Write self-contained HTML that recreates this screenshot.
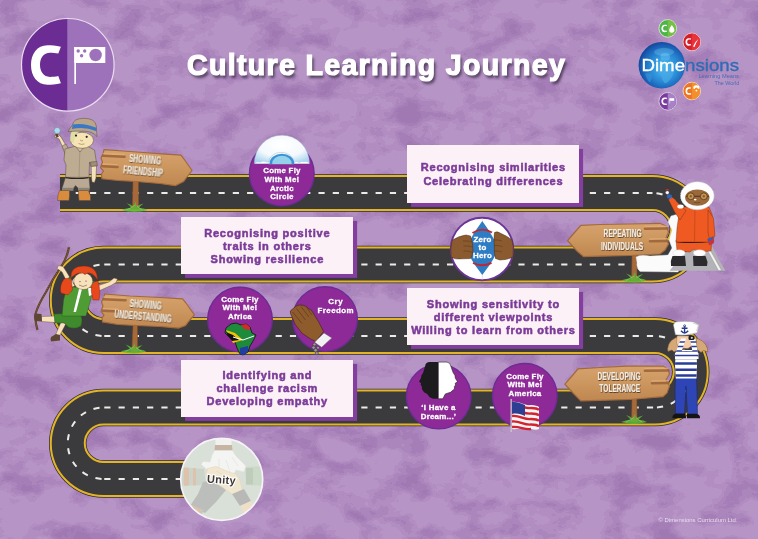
<!DOCTYPE html>
<html><head><meta charset="utf-8">
<style>
html,body{margin:0;padding:0;}
body{width:758px;height:539px;overflow:hidden;position:relative;background:#b694c6;font-family:"Liberation Sans",sans-serif;}
svg{position:absolute;left:0;top:0;}
.box{position:absolute;background:#fdf1f8;box-shadow:4.1px 3.9px 0 #843e9f;color:#7b3c98;font-weight:bold;font-size:11px;line-height:13.2px;text-align:center;-webkit-text-stroke:0.55px #7b3c98;letter-spacing:0.77px;}
.box div{padding-left:0.77px;}
.box div{position:absolute;left:0;right:0;will-change:transform;}
.title{position:absolute;left:187px;top:49px;font-size:28.6px;font-weight:bold;color:#fff;text-shadow:2px 3px 3px rgba(40,30,50,0.75);white-space:nowrap;-webkit-text-stroke:1.2px #fff;letter-spacing:1.3px;will-change:transform;}
.copy{position:absolute;left:658.5px;top:516.5px;font-size:5.95px;color:#e8dcef;white-space:nowrap;}
.bt{font-family:"Liberation Sans",sans-serif;font-weight:bold;fill:#fff;text-anchor:middle;font-size:7.9px;letter-spacing:0.25px;stroke:#fff;stroke-width:0.3px;}
.st{font-family:"Liberation Sans",sans-serif;font-weight:bold;fill:#f3ece0;text-anchor:middle;}
</style></head>
<body>
<svg width="758" height="539" viewBox="0 0 758 539">
<defs>
<filter id="tex" x="0" y="0" width="100%" height="100%" color-interpolation-filters="sRGB">
<feTurbulence type="fractalNoise" baseFrequency="0.028 0.04" numOctaves="5" seed="11"/>
<feColorMatrix type="matrix" values="0 0 0 0 0.6  0 0 0 0 0.44  0 0 0 0 0.68  1.8 0 0 0 -0.52"/>
<feComponentTransfer><feFuncA type="discrete" tableValues="0 0 0.2 0.45 0.7 0.9"/></feComponentTransfer>
</filter>
<path id="road" d="M60 193 H652.5 A35.75 35.75 0 0 1 652.5 264.5 H103.5 A35.75 35.75 0 0 0 103.5 336 H655 A35.75 35.75 0 0 1 655 407.5 H103.5 A35.75 35.75 0 0 0 103.5 479 H200"/>
</defs>
<rect width="758" height="539" fill="#b694c6"/>
<rect width="758" height="539" filter="url(#tex)" opacity="0.85"/>
<!-- road -->
<g fill="none">
<use href="#road" stroke="#2f2e30" stroke-width="37.5"/>
<use href="#road" stroke="#e3b526" stroke-width="36"/>
<use href="#road" stroke="#3b3a3c" stroke-width="32"/>
<path d="M61.42 193 H652.5 M104.26 264.5 H652.5 M104.26 336 H655 M104.26 407.5 H655 M104.26 479 H200" stroke="#ecebe8" stroke-width="2" stroke-dasharray="6.2 8.08"/>
<path d="M652.5 193 A35.75 35.75 0 0 1 652.5 264.5 M103.5 264.5 A35.75 35.75 0 0 0 103.5 336 M655 336 A35.75 35.75 0 0 1 655 407.5 M103.5 407.5 A35.75 35.75 0 0 0 103.5 479" stroke="#ecebe8" stroke-width="2" stroke-dasharray="6.2 8.08" stroke-dashoffset="-4"/>
</g>
<defs>
<linearGradient id="wood" x1="0" y1="0" x2="0" y2="1"><stop offset="0" stop-color="#d6a26b"/><stop offset="0.5" stop-color="#cc965f"/><stop offset="1" stop-color="#bf8650"/></linearGradient>
<filter id="tsh" x="-10%" y="-10%" width="120%" height="130%"><feDropShadow dx="0.5" dy="0.8" stdDeviation="0.35" flood-color="#3a2412" flood-opacity="0.9"/></filter>
</defs>
<!-- sign 1 -->
<g>
<path d="M133 181 L132.4 204 L131.5 209 L139 209 L138.6 204 L138.5 181 Z" fill="#a5693a" stroke="#7d4a24" stroke-width="0.5"/>
<path d="M121.5 210.0 Q127.5 207.5 131.5 208.0 Q128.5 204.5 126.5 203.0 Q131.5 204.5 133.5 207.0 Q134.5 203.5 135.5 201.5 Q136.5 204.5 136.0 207.0 Q139.5 204.0 143.5 203.5 Q140.5 206.0 138.5 208.0 Q143.5 207.5 147.5 210.0 Q140.5 212.0 134.5 212.0 Q128.5 212.0 121.5 210.0 Z" fill="#5cb83a" opacity="0.85"/><path d="M126.5 210.0 Q131.5 207.5 134.5 205.5 M142.5 210.0 Q138.5 207.5 136.5 205.5" stroke="#9ad86e" stroke-width="0.8" fill="none" opacity="0.8"/>
<path d="M104 149.7 L130 151.5 L161.5 153.9 L180.9 155.2 L184 159 L192 170.5 L187 177 L183.6 181.5 L175.3 185.7 L160 183.5 L136.5 181.5 L118 180.5 L102 178.8 L101.5 174 L103.5 171 L100.5 167.7 L102.5 162 L101 158 L103 154 Z" fill="url(#wood)" stroke="#a26a3c" stroke-width="1.2"/>
<path d="M103.5 153.6 L124 154.6 M103 164 L117 164.8" stroke="#e2b07a" stroke-width="1.6" fill="none" stroke-linecap="round" opacity="0.7"/><path d="M103 155.8 L124.5 156.8 M102.5 166.2 L117.5 167" stroke="#9c643a" stroke-width="2.6" fill="none" stroke-linecap="round" opacity="0.9"/>
<g transform="rotate(5 143 166)" filter="url(#tsh)">
<text class="st" x="0" y="0" transform="translate(144.5 162.5) scale(0.6 1)" font-size="11">SHOWING</text>
<text class="st" x="0" y="0" transform="translate(143.5 175.3) scale(0.6 1)" font-size="11">FRIENDSHIP</text>
</g>
</g>
<!-- sign 3 -->
<g>
<path d="M133 325 L132 346 L131 352 L138.5 352 L137.6 346 L137.5 325 Z" fill="#a5693a" stroke="#7d4a24" stroke-width="0.5"/>
<path d="M120.5 351.5 Q126.5 349 130.5 349.5 Q127.5 346 125.5 344.5 Q130.5 346 132.5 348.5 Q133.5 345 134.5 343 Q135.5 346 135.0 348.5 Q138.5 345.5 142.5 345 Q139.5 347.5 137.5 349.5 Q142.5 349 146.5 351.5 Q139.5 353.5 133.5 353.5 Q127.5 353.5 120.5 351.5 Z" fill="#5cb83a" opacity="0.85"/><path d="M125.5 351.5 Q130.5 349 133.5 347 M141.5 351.5 Q137.5 349 135.5 347" stroke="#9ad86e" stroke-width="0.8" fill="none" opacity="0.8"/>
<path d="M104.7 294 L130 296 L160 297.5 L182.6 298.9 L186 303 L194.4 314.9 L189 321 L185.5 325.5 L178.5 328.1 L160 326.5 L136.5 325.5 L118 324.5 L102.6 321.9 L102 318 L104 315 L101 311.5 L103 306 L101.5 302 L103.5 298 Z" fill="url(#wood)" stroke="#a26a3c" stroke-width="1.2"/>
<path d="M104 297 L125 298 M103.5 308.5 L118 309.3" stroke="#e2b07a" stroke-width="1.6" fill="none" stroke-linecap="round" opacity="0.7"/><path d="M103.5 299.2 L125.5 300.2 M103 310.7 L118.5 311.5" stroke="#9c643a" stroke-width="2.6" fill="none" stroke-linecap="round" opacity="0.9"/>
<g transform="rotate(5 143 311)" filter="url(#tsh)">
<text class="st" x="0" y="0" transform="translate(145 307.5) scale(0.6 1)" font-size="11">SHOWING</text>
<text class="st" x="0" y="0" transform="translate(143.5 320) scale(0.6 1)" font-size="11">UNDERSTANDING</text>
</g>
</g>
<!-- sign 2 -->
<g>
<path d="M632 254 L631.6 275 L630.5 281 L638 281 L637 275 L636.8 254 Z" fill="#a5693a" stroke="#7d4a24" stroke-width="0.5"/>
<path d="M621 280.5 Q627 278 631 278.5 Q628 275 626 273.5 Q631 275 633 277.5 Q634 274 635 272 Q636 275 635.5 277.5 Q639 274.5 643 274 Q640 276.5 638 278.5 Q643 278 647 280.5 Q640 282.5 634 282.5 Q628 282.5 621 280.5 Z" fill="#5cb83a" opacity="0.85"/><path d="M626 280.5 Q631 278 634 276 M642 280.5 Q638 278 636 276" stroke="#9ad86e" stroke-width="0.8" fill="none" opacity="0.8"/>
<path d="M567.6 240.7 L575 232 L580.9 225.4 L600 224.5 L630 224 L660 223.3 L666 226 L668.5 232 L666 238 L668.5 244 L665 250 L660 254 L630 255.5 L600 256.2 L583.6 256.7 L577 251 Z" fill="url(#wood)" stroke="#a26a3c" stroke-width="1.2"/>
<path d="M667 226.3 L645 226.6 M667 238.8 L650 239" stroke="#e2b07a" stroke-width="1.6" fill="none" stroke-linecap="round" opacity="0.7"/><path d="M667.5 228.5 L645 228.8 M667.5 241 L650 241.2" stroke="#9c643a" stroke-width="2.6" fill="none" stroke-linecap="round" opacity="0.9"/>
<g filter="url(#tsh)">
<text class="st" x="0" y="0" transform="translate(622.6 237.2) scale(0.6 1)" font-size="11">REPEATING</text>
<text class="st" x="0" y="0" transform="translate(622 249.7) scale(0.6 1)" font-size="11">INDIVIDUALS</text>
</g>
</g>
<!-- sign 4 -->
<g>
<path d="M632 398 L631.6 416 L630.5 422 L638 422 L637 416 L636.8 398 Z" fill="#a5693a" stroke="#7d4a24" stroke-width="0.5"/>
<path d="M621 422.0 Q627 419.5 631 420.0 Q628 416.5 626 415.0 Q631 416.5 633 419.0 Q634 415.5 635 413.5 Q636 416.5 635.5 419.0 Q639 416.0 643 415.5 Q640 418.0 638 420.0 Q643 419.5 647 422.0 Q640 424.0 634 424.0 Q628 424.0 621 422.0 Z" fill="#5cb83a" opacity="0.85"/><path d="M626 422.0 Q631 419.5 634 417.5 M642 422.0 Q638 419.5 636 417.5" stroke="#9ad86e" stroke-width="0.8" fill="none" opacity="0.8"/>
<path d="M564.9 384.2 L572 376 L578 368.9 L600 367.5 L626.8 366.1 L663 366 L668 369 L669.5 374 L666 380 L669.5 386 L667 393 L663 396.7 L629.5 399.5 L600 400.3 L580.9 400.9 L574 394 Z" fill="url(#wood)" stroke="#a26a3c" stroke-width="1.2"/>
<path d="M668 368.3 L645 368.5 M668 380.8 L652 381" stroke="#e2b07a" stroke-width="1.6" fill="none" stroke-linecap="round" opacity="0.7"/><path d="M668.5 370.5 L645 370.7 M668.5 383 L652 383.2" stroke="#9c643a" stroke-width="2.6" fill="none" stroke-linecap="round" opacity="0.9"/>
<g filter="url(#tsh)">
<text class="st" x="0" y="0" transform="translate(619 379.8) scale(0.6 1)" font-size="11">DEVELOPING</text>
<text class="st" x="0" y="0" transform="translate(619.8 392.3) scale(0.6 1)" font-size="11">TOLERANCE</text>
</g>
</g>

<!-- explorer boy -->
<g stroke="#5a4a3a" stroke-width="0.5" stroke-linejoin="round">
<!-- raised arm -->
<path d="M64 150 L59 139 L54.5 137 L55 135 L58.5 134.5 L61 137 L68 149 Z" fill="#f4e2b8"/>
<path d="M62 146 L66 144 L70 152 L65.5 155 Z" fill="#bcaa90"/>
<path d="M55.5 134.5 L56.5 137.5 L58.5 136.5 L57.5 133.8 Z" fill="#5a3a22"/>
<circle cx="57.2" cy="130.5" r="3.1" fill="#a9dcf2" stroke="#7a8a96" stroke-width="0.6"/>
<!-- shirt -->
<path d="M65 149 L74 146.5 L88 146.5 L94.5 150 L97 166 L91 166.5 L89.5 162 L89 177.5 L65.5 177.5 L66 165 L64 160 Z" fill="#bdab92"/>
<path d="M90.5 162 L97 161.5 L97.2 166 L91 166.6 Z" fill="#9e8f7c"/>
<path d="M80 148 L79 177" fill="none" stroke="#8e7e6a" stroke-width="0.5"/>
<path d="M76 147 L80 152 L84 147" fill="#cfc0a6"/>
<!-- hanging arm -->
<path d="M91.2 166.5 L96.5 166 L96 178 L94.5 182.5 L92 182 L91.5 178 Z" fill="#f4e2b8"/>
<!-- shorts -->
<path d="M65.5 177.3 L89 177.3 L90 188.5 L79 189 L75.5 185.5 L73 189 L62 188.5 Z" fill="#b9a994"/>
<path d="M65.5 177.6 Q77 179.5 88.5 177.6" fill="none" stroke="#2a2420" stroke-width="1.1"/>
<rect x="62" y="187.8" width="11.5" height="3" fill="#8a8478" stroke="none"/>
<rect x="78" y="187.8" width="11.5" height="3" fill="#8a8478" stroke="none"/>
<!-- boots -->
<path d="M59.5 190.5 L69.5 190.5 L69.5 196 L69 200.5 L57.5 200.5 L58 195 Z" fill="#d98b3e"/>
<path d="M78.5 190.5 L88.5 190.5 L90.5 196 L90.5 200.5 L79 200.5 L78.5 195 Z" fill="#d98b3e"/>
<!-- head -->
<ellipse cx="82" cy="140.3" rx="11.5" ry="8" fill="#f6e4b4"/>
<path d="M70.3 141 Q69.5 133 73 130.5 L80 131 L76 134 L73.5 143 Z" fill="#dedda4" stroke="none"/>
<circle cx="76" cy="135.6" r="1.1" fill="#222" stroke="none"/>
<circle cx="86.7" cy="136.8" r="1.1" fill="#222" stroke="none"/>
<path d="M80 140 q1.5 1.5 3 0.5" fill="none" stroke="#7a6040" stroke-width="0.5"/>
<path d="M78.5 143.5 q3 1.6 6 0.4" fill="none" stroke="#7a6040" stroke-width="0.5"/>
<!-- hat -->
<path d="M72.5 125 Q73 118.5 84 118.3 Q95.5 118.5 96.3 126 L97 136.5 Q92 131 84 131.2 Q74 131 68 131.5 Q70 128 72.5 125 Z" fill="#b8a58c"/>
<path d="M72.6 124.5 Q84 122.5 96.3 127.8 L96.6 131.3 Q84 126 72 129 Z" fill="#3a78c4" stroke="none"/>
</g>

<!-- eskimo -->
<g stroke-linejoin="round">
<!-- snow -->
<path d="M636 257 Q640 254 650 256 L668 255 L672 248 L669 240 L672 230 L668 222 L671 216 L678 214 L684 220 L684 262 L678 272 L640 271.5 Q636 268 637 263 Z" fill="#fbfbfb" stroke="#d8d8dc" stroke-width="0.4"/>
<!-- gray ground -->
<path d="M669.5 270.8 L684 253 L695 246 L709 240 L718 258 L725.5 270.8 Z" fill="#b3b2b7"/>
<path d="M703 237 L721.5 270.5 L718.5 270.5 L701 238.5 Z" fill="#f2f2f2" stroke="#777" stroke-width="0.3"/>
<!-- legs -->
<path d="M676 240 L712 240 L711 251 L697 252 L694 249 L690 252 L677 251 Z" fill="#ee5a22" stroke="#6a2a10" stroke-width="0.4"/>
<path d="M676.5 241.5 Q694 243.5 711.5 241" fill="none" stroke="#2a1a14" stroke-width="1.3"/>
<ellipse cx="679" cy="253" rx="6.2" ry="3.2" fill="#fff" stroke="#ccc" stroke-width="0.4"/>
<ellipse cx="699.5" cy="253" rx="6.2" ry="3.2" fill="#fff" stroke="#ccc" stroke-width="0.4"/>
<path d="M672.5 256 L685 256 L686 266 L671 266 Q670 261 672.5 256 Z" fill="#2c2c2e"/>
<path d="M693 256 L705.5 256 L707.5 262 L707 266 L693.5 266 Z" fill="#2c2c2e"/>
<!-- body -->
<path d="M683 207 L709 207 L712 214 L714 232 L713.5 242 L676 242 L677 228 L679 214 Z" fill="#ee5a22" stroke="#6a2a10" stroke-width="0.4"/>
<path d="M695 210 L694.5 241" fill="none" stroke="#a83a12" stroke-width="0.5"/>
<!-- right arm -->
<path d="M708 210 L713.5 218 L715 236 L709.5 240 L708 232 Z" fill="#ee5a22" stroke="#6a2a10" stroke-width="0.4"/>
<path d="M707.5 239 L713 236.5 L714 243 L709 245.5 Z" fill="#c8323a"/>
<path d="M707.5 239 L713 236.5 L712.5 239.5 L708 241.5 Z" fill="#2f63b8"/>
<!-- raised arm -->
<path d="M680 220 L674.5 211.7 L668.4 199.5 L672.8 197.6 L682.3 207.3 L686 210.6 Z" fill="#ee5a22" stroke="#6a2a10" stroke-width="0.4"/>
<ellipse cx="680.5" cy="206.5" rx="3.2" ry="2" fill="#fff"/>
<ellipse cx="669.5" cy="196.5" rx="2.6" ry="2.2" fill="#2f63b8"/>
<circle cx="667.3" cy="192.6" r="1.7" fill="#fff" stroke="#999" stroke-width="0.3"/>
<path d="M665 190.3 Q667.3 187.6 669.6 190.3 Z" fill="#d42a2a"/>
<!-- hood -->
<ellipse cx="697.3" cy="195.8" rx="16.8" ry="14" fill="#fdfdfd" stroke="#c8c8cc" stroke-width="0.8" stroke-dasharray="1.5 1"/>
<ellipse cx="697.3" cy="197.6" rx="12.2" ry="8.2" fill="#9a683a"/>
<path d="M686 196.3 H709" stroke="#5e3a1c" stroke-width="1.2"/>
<circle cx="690.8" cy="196.3" r="3.4" fill="#c39554" stroke="#4e3016" stroke-width="0.7"/>
<circle cx="703.8" cy="196.3" r="3.4" fill="#c39554" stroke="#4e3016" stroke-width="0.7"/>
<circle cx="690.8" cy="196.3" r="1.2" fill="#8a5e2e"/>
<circle cx="703.8" cy="196.3" r="1.2" fill="#8a5e2e"/>
<ellipse cx="695.2" cy="199.6" rx="1.3" ry="0.9" fill="#fff"/>
<path d="M694 202.3 q3 1.2 6 0" fill="none" stroke="#4e3016" stroke-width="0.5"/>
</g>

<!-- girl -->
<g stroke-linejoin="round">
<!-- rope -->
<path d="M69 247 Q67 258 61 267 Q52 280 46 292 Q38 305 35.5 314 Q35 322 37.5 330" fill="none" stroke="#5e4028" stroke-width="2.2"/>
<path d="M69 247 Q67 258 61 267 Q52 280 46 292 Q38 305 35.5 314 Q35 322 37.5 330" fill="none" stroke="#9a7a58" stroke-width="0.8" stroke-dasharray="1 1.2"/>
<!-- raised arm -->
<path d="M70 288 L62 272 L57 268.5 L58.5 265.5 L63 266.5 L66 271 L75 286 Z" fill="#f7e2bc" stroke="#5a4030" stroke-width="0.4"/>
<!-- right arm -->
<path d="M91 288 L109 282 L114 278 L117.5 279 L116 282.5 L111 285.5 L93 293.5 Z" fill="#f7e2bc" stroke="#5a4030" stroke-width="0.4"/>
<!-- left leg -->
<path d="M55 316 L41.5 316.5 L41.5 321.5 L55 322.5 Z" fill="#f7e2bc" stroke="#5a4030" stroke-width="0.4"/>
<path d="M35 313.5 L41.5 314 L42 321.5 L35 321 Q33 317 35 313.5 Z" fill="#5e4634"/>
<!-- right leg -->
<path d="M61 322 L66 323.5 L59.5 336 L55.5 335 Z" fill="#f7e2bc" stroke="#5a4030" stroke-width="0.4"/>
<path d="M51 337 L56 334 L60 335 L60 340.5 L51 341.5 Q50 339 51 337 Z" fill="#5e4634"/>
<!-- shorts -->
<path d="M54 314 L80 313 Q83.5 320 81 326 Q76 329.5 69 327.5 L64 323 L55 323 Z" fill="#3f8a2c" stroke="#24501a" stroke-width="0.4"/>
<!-- shirt + vest -->
<path d="M67 287 L92 287.5 L91 299 L86 316 L62 316 L63.5 300 Z" fill="#4f9c35" stroke="#24501a" stroke-width="0.4"/>
<path d="M79 289 L82 289 L76 312 L73.5 312 Z" fill="#fff"/>
<path d="M67 287 L71 287 L70 293 L66.5 294 Z" fill="#fff"/>
<path d="M88 288 L92 288 L92 295 L89 296 Z" fill="#fff"/>
<!-- pigtails -->
<path d="M64 279 L71 277.5 L72.5 290 L68 295 L61 293 Q59 286 64 279 Z" fill="#e8491c" stroke="#7a2208" stroke-width="0.4"/>
<path d="M92 282 L98 281 Q101 292 99 300 L93 300 Q90 291 92 282 Z" fill="#e8491c" stroke="#7a2208" stroke-width="0.4"/>
<circle cx="70" cy="278" r="1.3" fill="#2f7a2a"/>
<circle cx="93" cy="282" r="1.3" fill="#2f7a2a"/>
<!-- head -->
<ellipse cx="83.2" cy="281.2" rx="9.5" ry="8.4" fill="#f7e2bc" stroke="#5a4030" stroke-width="0.4"/>
<path d="M71 278 Q70 266 84 266 Q97.5 266 97.5 280 Q93 272 87 273 Q85 276 83 273 Q77 272 71 278 Z" fill="#e8491c" stroke="#7a2208" stroke-width="0.4"/>
<path d="M79 282 q1 -1.5 2 0 M85 281.5 q1 -1.5 2 0" fill="none" stroke="#5a4030" stroke-width="0.5"/>
<path d="M79 285 q4 3 8 0" fill="none" stroke="#5a4030" stroke-width="0.5"/>
</g>

<!-- sailor -->
<g stroke-linejoin="round">
<!-- trousers -->
<path d="M675.5 377 L696.5 377 L697 392 L697.5 414.5 L687.5 414.5 L686 386 L684.5 414.5 L675.5 414.5 L675 392 Z" fill="#2d45b5" stroke="#1a2466" stroke-width="0.5"/>
<path d="M672.5 418.2 Q672 414.5 676 413.5 L685.5 413.5 L686 418.2 Z" fill="#141414"/>
<path d="M687 413.8 L696.5 413.8 Q700.5 415 700 418.2 L687 418.2 Z" fill="#141414"/>
<!-- shirt -->
<clipPath id="shc"><path d="M676 350 L696.5 350 L697 365 L696.5 378.5 L675.8 378.5 L675 365 Z"/></clipPath>
<g clip-path="url(#shc)">
<rect x="674" y="349" width="24" height="31" fill="#fff"/>
<path d="M674 352.5 H698 M674 358 H698 M674 363.6 H698 M674 369.8 H698 M674 375.4 H698" stroke="#2a3c96" stroke-width="2.5"/>
</g>
<!-- hair -->
<path d="M677 337 Q670 340 668.5 345 Q667 349 668 351.5 L672 350 L674 352 L679 349 Z" fill="#d6a878" stroke="#7a5430" stroke-width="0.5"/>
<path d="M696 338 Q703 340 706 345 Q708 349 707.8 352 L703.5 350.5 L701 352.5 L697 349 Z" fill="#d6a878" stroke="#7a5430" stroke-width="0.5"/>
<!-- face -->
<path d="M677 336 L692 336 L693 345 L688 348.5 L679 348 L676.5 343 Z" fill="#f3cba8" stroke="#8a6440" stroke-width="0.4"/>
<!-- arms striped -->
<clipPath id="arc"><path d="M681 338.5 L686 338.5 L680 356.5 L674.5 355.5 Z M690 338.5 L695.5 338.5 L698.5 356.5 L693.5 357 Z M675 353 Q686 349 698.5 353 L698.5 359 L675 359 Z"/></clipPath>
<g clip-path="url(#arc)">
<rect x="672" y="337" width="28" height="24" fill="#fff"/>
<path d="M672 342 H700 M672 346.5 H700 M672 351 H700 M672 355.5 H700" stroke="#2a3c96" stroke-width="1.7"/>
</g>
<!-- binoculars -->
<rect x="688.5" y="335.5" width="6" height="4.5" rx="1.5" fill="#1e1e1e"/>
<circle cx="691.8" cy="337.8" r="1.1" fill="#ccc"/>
<!-- hat -->
<path d="M673.4 324.8 L675.4 321.9 Q685 320.8 693.9 321.9 L699.3 324.8 L697.2 332.7 Q686 336.5 675.4 334.7 Z" fill="#fff" stroke="#9a9a9a" stroke-width="0.5"/>
<path d="M693 323 L698.5 325 L696.5 331" fill="none" stroke="#888" stroke-width="0.4"/>
<g fill="none" stroke="#283a8a" stroke-width="1.4">
<path d="M684.6 326.2 V333.3 M681.7 328.3 H687.5 M681 330.8 Q684.6 335.2 688.2 330.8"/>
</g>
<circle cx="684.6" cy="325.8" r="1" fill="none" stroke="#283a8a" stroke-width="0.8"/>
</g>

<!--ROADEND-->
</svg>

<div class="title">Culture Learning Journey</div>

<div class="box" style="left:407px;top:145px;width:172px;height:57.8px;"><div style="top:16.2px">Recognising similarities</div><div style="top:29.7px">Celebrating differences</div></div>
<div class="box" style="left:181px;top:217px;width:171.8px;height:57.3px;"><div style="top:10.1px">Recognising positive</div><div style="top:23.1px">traits in others</div><div style="top:36.1px">Showing resilience</div></div>
<div class="box" style="left:407px;top:288px;width:172px;height:57px;"><div style="top:9.5px">Showing sensitivity to</div><div style="top:22.7px">different viewpoints</div><div style="top:35.8px">Willing to learn from others</div></div>
<div class="box" style="left:181px;top:360px;width:171.8px;height:56.8px;"><div style="top:9px">Identifying and</div><div style="top:22px">challenge racism</div><div style="top:35.1px">Developing empathy</div></div>

<svg width="758" height="539" viewBox="0 0 758 539">
<!-- Arctic circle -->
<g>
<circle cx="281.8" cy="173.5" r="32.3" fill="#8d2a97" stroke="#6d2c94" stroke-width="1.4"/>
<defs><radialGradient id="ig" cx="0.5" cy="0.35" r="0.7"><stop offset="0" stop-color="#ffffff"/><stop offset="0.6" stop-color="#f4f9fd"/><stop offset="1" stop-color="#a8d4ee"/></radialGradient></defs>
<path d="M254.3 163.5 A27.6 28.3 0 0 1 309.5 163.5 Z" fill="url(#ig)" stroke="#9fb6c8" stroke-width="0.4"/>
<path d="M254.5 163.5 q3 -2 6 -1 q3 -2 6 0 q2 -1 4 0 L294 163 q3 -2 5 0 q3 -2 5 -1 q3 -1 5.5 1.5 Z" fill="#fff"/>
<path d="M268.6 164 V162.5 A12.6 10.2 0 0 1 293.8 162.5 V164 Z" fill="none" stroke="#aab8c4" stroke-width="0.5"/><path d="M269.6 164 V163.5 A12.3 9.8 0 0 1 294.2 163.5 V164 Z" fill="#3a93d6"/>
<path d="M272.2 164 V163.5 A9.7 7.8 0 0 1 291.6 163.5 V164 Z" fill="#93d2ea"/>
<text class="bt" x="282" y="173.4">Come Fly</text>
<text class="bt" x="282" y="181.9">With Me!</text>
<text class="bt" x="282" y="190.6">Arctic</text>
<text class="bt" x="282" y="199.3">Circle</text>
</g>
<!-- Zero to hero -->
<g>
<circle cx="482" cy="249" r="31.2" fill="#fff" stroke="#6a3597" stroke-width="1.9"/>
<path d="M482.3 221 C487 228 495 238 497.5 249 C495 259 488 267 482.3 275 C476.6 267 469.6 259 467 249 C469.6 238 477.6 228 482.3 221 Z" fill="#2e7cc4"/>
<path d="M472.5 233 Q482 226.5 492 232.5" fill="none" stroke="#c4262e" stroke-width="1.9"/>
<path d="M473 263 Q482 267.5 491.5 262.8" fill="none" stroke="#c4262e" stroke-width="1.9"/>
<path d="M482.3 218 L482.3 221.5 M482.3 274.5 L482.3 280" stroke="#bbb" stroke-width="0.4"/>
<g transform="translate(0 2)"><path d="M452 238.5 Q458 234 466 233 L470.5 234 Q473 240 473 248 Q472.5 254 470.5 256.5 L462 256.8 Q455 257.8 451.2 255 Q450.3 246 452 238.5 Z" fill="#8b5a2e" stroke="#4a2d14" stroke-width="0.5"/>
<path d="M463 239 Q468 238.5 472 240 M463.5 244 Q468 243.5 472.8 245 M463.5 249 Q468 248.5 472.5 250.5" fill="none" stroke="#5a3618" stroke-width="0.5"/>
<path d="M494.5 230.5 Q497 229 500 231 Q507 234 512 238 L513.3 245 L513 255 Q507 258 500 258 L495.5 256.5 Q493.8 250 494.3 244 Q493.5 237 494.5 230.5 Z" fill="#8b5a2e" stroke="#4a2d14" stroke-width="0.5"/>
<path d="M494 238 Q498 237.5 502 239 M494 243.5 Q498 243 502.5 244.5 M494.2 249 Q498 248.5 502 250" fill="none" stroke="#5a3618" stroke-width="0.5"/>
</g>
<text class="bt" x="482.5" y="241.8">Zero</text>
<text class="bt" x="482.5" y="250">to</text>
<text class="bt" x="482.5" y="258.3">Hero</text>
</g>
<!-- Africa -->
<g>
<circle cx="240" cy="319.5" r="32.3" fill="#8d2a97" stroke="#6d2c94" stroke-width="1.4"/>
<text class="bt" x="240" y="301.8">Come Fly</text>
<text class="bt" x="240" y="310.2">With Me!</text>
<text class="bt" x="240" y="318.8">Africa</text>
<g>
<path d="M231 324 L236 323 L241 325 L246 324 L250 327 L252 333 L256 335 L253 341 L250 346 L248 352 L243 355 L240 354 L237 348 L235 342 L232 338 L228 336 L225 333 L226 328 Z" fill="#1e8a3c" stroke="#111" stroke-width="0.8"/>
<path d="M241 325 L246 324 L250 327 L250 330 L244 329 Z" fill="#d42a2a"/>
<path d="M226 330 L235 333 L243 340 L233 343 Z" fill="#f2c200"/>
<path d="M226 332 L233 335 L239 340 L232 341 L228 336 Z" fill="#111"/>
<path d="M240 348 L248 346 L248 352 L243 355 L240 354 Z" fill="#1e3ea0"/>
<path d="M233 337 L243 340 L254 336" fill="none" stroke="#fff" stroke-width="1"/>
</g>
</g>
<!-- Cry freedom -->
<g>
<circle cx="325" cy="319" r="32.3" fill="#8d2a97" stroke="#6d2c94" stroke-width="1.4"/>
<text class="bt" x="335.8" y="304.3" style="letter-spacing:0.6px">Cry</text>
<text class="bt" x="335.8" y="312.8" style="letter-spacing:0.45px">Freedom</text>
<path d="M290.5 313.5 Q289.5 310.5 292 309.5 L295.5 306.5 Q297.5 304.8 300.5 305 Q304 305 306.5 306.8 L309 309 Q311.5 309.5 312.5 312 L318.5 321.7 L323.5 331.5 L316 341.5 L310.6 339 L301.7 332.9 L295 324 Z" fill="#8e5b2c" stroke="#3d2410" stroke-width="0.6"/>
<path d="M292.5 312 L302 323.5 M296.5 308.5 L305.5 320 M301 306.5 L309 317 M306.5 307.5 L312 315" fill="none" stroke="#4a2c12" stroke-width="0.5"/>
<path d="M324 332.9 L331.8 337.9 L321.7 347.3 L314.5 342.3 Z" fill="#f2f2f4" stroke="#666" stroke-width="0.5"/>
<g fill="#9a9a9e" stroke="#3a3a3a" stroke-width="0.6"><circle cx="314.5" cy="344.5" r="1.6"/><circle cx="313.6" cy="347.6" r="1.7"/><circle cx="315.6" cy="350.2" r="1.7"/><circle cx="318" cy="347.8" r="1.5"/><circle cx="316.8" cy="353.2" r="1.6"/></g>

</g>
<!-- I have a dream -->
<g>
<circle cx="438.7" cy="396.6" r="32.3" fill="#8d2a97" stroke="#6d2c94" stroke-width="1.4"/>
<path d="M438.3 362.1 L429 362.1 Q425.6 362.5 425.2 366 L423.2 372.5 L421.4 375.5 L421 378 L419 381.7 L421.1 383.3 L420.7 385 L421.9 386.5 L421.9 389 L424 392.3 L427.2 393.9 L429.7 397.2 L433 398.8 L438.3 398.8 Z" fill="#1c1c1e"/>
<path d="M438.3 362.1 L447 362.1 Q450.4 362.5 450.8 366 L453.1 372.5 L455 375.5 L455.3 378 L457.5 381.7 L455.2 383.3 L455.6 385 L454.4 386.5 L454.4 389 L450.5 392.3 L445.4 393.9 L443.6 397.2 L442.7 398.8 L438.3 398.8 Z" fill="#fff" stroke="#1c1c1e" stroke-width="0.6"/>
<text class="bt" x="438.5" y="410.4">‘I Have a</text>
<text class="bt" x="438.5" y="418.6">Dream...’</text>
</g>
<!-- America -->
<g>
<circle cx="524.8" cy="395.8" r="32.3" fill="#8d2a97" stroke="#6d2c94" stroke-width="1.4"/>
<text class="bt" x="525" y="378.8">Come Fly</text>
<text class="bt" x="525" y="387">With Me!</text>
<text class="bt" x="525" y="396">America</text>
<rect x="510.5" y="399" width="1.3" height="33" fill="#c9c9cc"/>
<g>
<path d="M512 402 C520 401 524 406 531 405 C535 405 538 406 539 407 L539 429 C535 431 530 428 525 428 C520 428 516 430 512 429 Z" fill="#f4f4f4"/>
<path d="M512 405 C520 404 524 409 531 408 C535 408 538 409 539 410 M512 410.5 C520 409.5 524 414.5 531 413.5 C535 413.5 538 414.5 539 415.5 M512 416 C520 415 524 420 531 419 C535 419 538 420 539 421 M512 421.5 C520 420.5 524 425.5 531 424.5 C535 424.5 538 425.5 539 426.5 M512 427 C520 426 524 430 531 429" fill="none" stroke="#d2232f" stroke-width="2.4"/>
<path d="M512 402 C517 401.5 521 403 525 405 L525 416 C521 414 517 413 512 414 Z" fill="#2c3f93"/>
</g>
</g>
<!-- Unity -->
<g>
<clipPath id="uc"><circle cx="221.7" cy="479.3" r="41"/></clipPath>
<circle cx="221.7" cy="479.3" r="41" fill="#d4dcd1"/>
<g clip-path="url(#uc)" stroke-linejoin="round">
<!-- left sleeve -->
<path d="M176 467 L204 469 L206 485 L176 486 Z" fill="#c3cbbf"/>
<path d="M184 467.5 L189 467.8 L189 485.6 L184 485.8 Z M193 468 L196 468.2 L196 485.3 L193 485.4 Z" fill="#d9b69a"/>
<!-- right sleeve -->
<path d="M245 467 L268 466 L268 486 L246 485 Z" fill="#c2d3bf"/>
<path d="M246 468 L253 468 L253 484.5 L246 484.5 Z" fill="#b3c2ae"/>
<!-- white glove from top -->
<path d="M215.5 430 L231.5 430 L231.5 448 L215.5 448 Z" fill="#f2f3f1"/>
<path d="M215 445 L232 445 L232.5 450.5 L214.5 450.5 Z" fill="#bba48e"/>
<path d="M214.5 450.5 L232.5 450.5 L236 456 L246 466 L244 472 L236 470 L233 476 L222 478 L212 474 L205 468 L201 464.5 L203 461.5 L210 462 L212 455 Z" fill="#f6f6f5" stroke="#dadcd8" stroke-width="0.6"/>
<path d="M232 457 L238 466 M226 460 L230 472 M219 459 L219 472" fill="none" stroke="#dfe0dc" stroke-width="0.7"/>
<!-- dark glove from bottom-left -->
<path d="M203 482 L222 478 L226 490 L216 502 L205 513 L190 506 L198 494 Z" fill="#adb0ad"/>
<path d="M188 503 L204 510 L198 522 L183 516 Z" fill="#b8bcb6"/>
<path d="M191 505 L195 507 L190 518 L186 516 Z M197 507.5 L201 509.5 L196 520 L192 518 Z" fill="#e2b08a"/>
<!-- pale hand -->
<path d="M207.5 468.5 L216 466.5 L229 472 L236 474 L240 480 L243 493 L236 497 L229 492 L222 487 L212 481 L206 474 Z" fill="#f3e3c8" stroke="#e0cdb0" stroke-width="0.6"/>
<path d="M214 476 L230 488 M216 471 L234 481" fill="none" stroke="#e6d3b6" stroke-width="0.6"/>
<path d="M232 494 L244 489 L251 501 L240 506 Z" fill="#a9aaa8"/>
<circle cx="221.7" cy="479.3" r="41" fill="#eef2ec" opacity="0.22"/>
<path d="M240 506 L251 501 L258 514 L247 519 Z" fill="#eedfc8"/>
</g>
<circle cx="221.7" cy="479.3" r="41" fill="none" stroke="#f6f2f7" stroke-width="1.7"/>
<text x="221.5" y="483.5" text-anchor="middle" font-family="Liberation Sans" font-weight="bold" font-size="11" fill="#3d3833" stroke="#fff" stroke-width="2.2" paint-order="stroke" transform="rotate(4 221.5 480)" style="letter-spacing:0.3px">Unity</text>
</g>

<!-- C logo -->
<g>
<clipPath id="cl"><circle cx="67.8" cy="64.8" r="46.3"/></clipPath>
<g clip-path="url(#cl)">
<rect x="20" y="17" width="47.6" height="96" fill="#6b2c93"/>
<rect x="67.6" y="17" width="48" height="96" fill="#9d72ba"/>
</g>
<circle cx="67.8" cy="64.8" r="46.3" fill="none" stroke="#eadcf0" stroke-width="1.2"/>
<path d="M60.9 46.8 C56 45.6 51 45.3 47.5 45.3 C37 45.3 31 54 31 65 C31 76 37 84.7 47.5 84.7 C51 84.7 56 84.4 60.9 83.2 L58.3 76.1 C55.5 76.7 52.5 76.9 50 76.9 C43.5 76.9 40 71.5 40 64.8 C40 58 43.5 52.7 50 52.7 C52.5 52.7 55.5 53 58.3 53.6 Z" fill="#fff"/>
<rect x="74.3" y="47" width="31" height="16" fill="#fff"/>
<rect x="74.3" y="47" width="1.7" height="37" fill="#fff"/>
<circle cx="95.6" cy="55" r="6.2" fill="#9d72ba"/>
<circle cx="78.2" cy="51" r="1.7" fill="#9d72ba"/>
<circle cx="84.7" cy="51" r="1.7" fill="#9d72ba"/>
<circle cx="81.6" cy="55.8" r="1.7" fill="#9d72ba"/>
</g>
<!-- Dimensions logo -->
<g>
<defs>
<radialGradient id="gl" cx="0.55" cy="0.55" r="0.6"><stop offset="0" stop-color="#4cc0f0"/><stop offset="0.5" stop-color="#2a8ad6"/><stop offset="0.85" stop-color="#1656ac"/><stop offset="1" stop-color="#0f3c8a"/></radialGradient>
</defs>
<circle cx="661.8" cy="65.3" r="23.2" fill="url(#gl)"/>
<path d="M658 67.5 q5 -2 9 0 q5 1 7 4 q-1 5 -4 8 q-2 3 -5 4 q-3 -3 -3.5 -7 q-3 -2 -3.5 -9z" fill="#4aa8e6" opacity="0.75"/>
<path d="M661 54 q4 -2 8 0 q2 3 0 6 q-4 1 -8 0 q-1 -3 0 -6z" fill="#5ab8ee" opacity="0.6"/>
<path d="M645 73.5 q4 -1 7 1 q0 4 -2 8 q-3 -2 -5 -9z" fill="#3a96dc" opacity="0.6"/>
<ellipse cx="664" cy="52" rx="10" ry="4" fill="#7fd0f5" opacity="0.3"/>
<text x="641.5" y="71.2" font-family="Liberation Sans" font-size="17.3" fill="#fff" stroke="#fff" stroke-width="0.35" textLength="97.5" lengthAdjust="spacingAndGlyphs">Dime<tspan fill="#2d6db5" stroke="#2d6db5">nsions</tspan></text>
<text x="698.4" y="77.6" font-family="Liberation Sans" font-size="5.8" fill="#4a6cb0" textLength="40.5" lengthAdjust="spacingAndGlyphs">Learning Means</text>
<text x="714.4" y="84.6" font-family="Liberation Sans" font-size="5.8" fill="#4a6cb0" textLength="24.8" lengthAdjust="spacingAndGlyphs">The World</text>
<g>
<circle cx="667.7" cy="28.4" r="8.8" fill="#4bb548" stroke="#e8f2dc" stroke-width="0.8"/>
<path d="M667.7 19.999999999999996 A8.4 8.4 0 0 1 667.7 36.800000000000004 Z" fill="#76c043"/>
<path d="M60.9 46.8 C56 45.6 51 45.3 47.5 45.3 C37 45.3 31 54 31 65 C31 76 37 84.7 47.5 84.7 C51 84.7 56 84.4 60.9 83.2 L58.3 76.1 C55.5 76.7 52.5 76.9 50 76.9 C43.5 76.9 40 71.5 40 64.8 C40 58 43.5 52.7 50 52.7 C52.5 52.7 55.5 53 58.3 53.6 Z" fill="#fff" transform="translate(655.51 16.05) scale(0.19)"/>
<path d="M671.8 25 q2.6 3.2 2.6 5.1 a2.6 2.6 0 0 1 -5.2 0 q0 -1.9 2.6 -5.1z" fill="#fff"/>
<circle cx="691.8" cy="41.9" r="8.8" fill="#d41f2a" stroke="#f4d8d8" stroke-width="0.8"/>
<path d="M691.8 33.49999999999999 A8.4 8.4 0 0 1 691.8 50.300000000000004 Z" fill="#e8333b"/>
<path d="M60.9 46.8 C56 45.6 51 45.3 47.5 45.3 C37 45.3 31 54 31 65 C31 76 37 84.7 47.5 84.7 C51 84.7 56 84.4 60.9 83.2 L58.3 76.1 C55.5 76.7 52.5 76.9 50 76.9 C43.5 76.9 40 71.5 40 64.8 C40 58 43.5 52.7 50 52.7 C52.5 52.7 55.5 53 58.3 53.6 Z" fill="#fff" transform="translate(679.61 29.55) scale(0.19)"/>
<path d="M693 46.5 q1.5 -4.5 5.5 -7.5 q-2.5 3.5 -4 8z" fill="#fff"/>
<circle cx="691.8" cy="91" r="8.8" fill="#ee7420" stroke="#f8e4cc" stroke-width="0.8"/>
<path d="M691.8 82.60000000000001 A8.4 8.4 0 0 1 691.8 99.39999999999999 Z" fill="#f4902c"/>
<path d="M60.9 46.8 C56 45.6 51 45.3 47.5 45.3 C37 45.3 31 54 31 65 C31 76 37 84.7 47.5 84.7 C51 84.7 56 84.4 60.9 83.2 L58.3 76.1 C55.5 76.7 52.5 76.9 50 76.9 C43.5 76.9 40 71.5 40 64.8 C40 58 43.5 52.7 50 52.7 C52.5 52.7 55.5 53 58.3 53.6 Z" fill="#fff" transform="translate(679.61 78.65) scale(0.19)"/>
<path d="M693.2 88.5 a3.2 3.2 0 0 1 6.4 0 l-1.6 0.6 a1.6 1.6 0 0 0 -3.2 0 z" fill="#fff"/><circle cx="696.4" cy="90.6" r="0.9" fill="#fff"/>
<circle cx="667.7" cy="101.3" r="8.8" fill="#7a3a9e" stroke="#e7dcef" stroke-width="0.8"/>
<path d="M667.7 92.9 A8.4 8.4 0 0 1 667.7 109.69999999999999 Z" fill="#a782c6"/>
<path d="M60.9 46.8 C56 45.6 51 45.3 47.5 45.3 C37 45.3 31 54 31 65 C31 76 37 84.7 47.5 84.7 C51 84.7 56 84.4 60.9 83.2 L58.3 76.1 C55.5 76.7 52.5 76.9 50 76.9 C43.5 76.9 40 71.5 40 64.8 C40 58 43.5 52.7 50 52.7 C52.5 52.7 55.5 53 58.3 53.6 Z" fill="#fff" transform="translate(655.51 88.95) scale(0.19)"/>
<rect x="669.6" y="98.2" width="4.6" height="2.6" fill="#fff"/><rect x="669.6" y="98.2" width="0.5" height="5.2" fill="#fff"/>
</g>
</g>

<!--TOP-->
</svg>
<div class="copy">© Dimensions Curriculum Ltd.</div>
</body></html>
